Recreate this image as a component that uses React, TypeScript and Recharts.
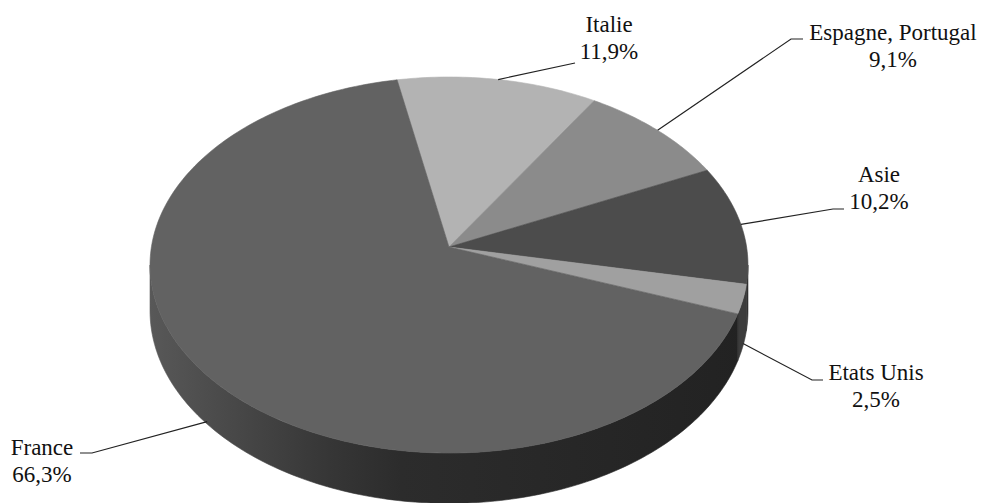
import { PieChart, Pie, Cell } from "recharts";

// parts de marché par zone (%)
const regions = ["Italie", "Espagne, Portugal", "Asie", "Etats Unis", "France"];
const shares = [11.9, 9.1, 10.2, 2.5, 66.3];
const shareLabels = ["11,9%", "9,1%", "10,2%", "2,5%", "66,3%"];

const topColors = ["#b3b3b3", "#8b8b8b", "#4c4c4c", "#a0a0a0", "#626262"];
const wallColors = ["#7a7a7a", "#5a5a5a", "#2e2e2e", "#3c3c3c", "url(#franceWall)"];

// leader line elbow / text placement, one per region
const labelSpots = [
  { ex: 575, ey: 63, tx: 609, ty: 32 },
  { ex: 791, ey: 39, tx: 893, ty: 40, hx: 803 },
  { ex: 833, ey: 209, tx: 879, ty: 182, hx: 844 },
  { ex: 812, ey: 380, tx: 876, ty: 380, hx: 823 },
  { ex: 92, ey: 453, tx: 42, ty: 455, hx: 80 },
];

const data = regions.map((name, i) => ({ name, value: shares[i] }));

const W = 983;
const H = 503;
const CX = 449;
const CY = 247;
const RX = 297.6;
const RATIO = 186.3 / 297.6;
const K = 0.0958; // perspective
const DEPTH = 45.5;
const SERIF = "Liberation Serif, DejaVu Serif";

const pt = (cx: number, cy: number, rx: number, deg: number) => {
  const r = (deg * Math.PI) / 180;
  const q = 1 + K * Math.sin(r);
  return [cx + (rx * Math.cos(r)) / q, cy - (rx * RATIO * Math.sin(r)) / q];
};
const depthAt = (deg: number) => DEPTH / (1 + K * Math.sin((deg * Math.PI) / 180));

// sample the rim from angle a to angle b
const rim = (cx: number, cy: number, rx: number, a: number, b: number, drop = false) => {
  const n = Math.max(2, Math.ceil(Math.abs(b - a)));
  const out: string[] = [];
  for (let i = 0; i <= n; i++) {
    const t = a + ((b - a) * i) / n;
    const [x, y] = pt(cx, cy, rx, t);
    out.push(`${x.toFixed(2)},${(drop ? y + depthAt(t) : y).toFixed(2)}`);
  }
  return out;
};

function TopFace(props: any) {
  const { cx, cy, outerRadius, startAngle, endAngle, fill } = props;
  const hi = Math.max(startAngle, endAngle);
  const lo = Math.min(startAngle, endAngle);
  const pts = [`${cx},${cy}`, ...rim(cx, cy, outerRadius, hi, lo)];
  return <polygon points={pts.join(" ")} fill={fill} stroke={fill} strokeWidth={0.6} />;
}

function SideWall(props: any) {
  const { cx, cy, outerRadius, startAngle, endAngle, fill } = props;
  const hi = Math.max(startAngle, endAngle);
  const lo = Math.min(startAngle, endAngle);
  const tip = (Math.asin(K) * 180) / Math.PI;
  const parts: number[][] = [];
  for (const k of [-1, 0, 1]) {
    const a = Math.max(lo, -180 + tip + 360 * k);
    const b = Math.min(hi, -tip + 360 * k);
    if (b > a) parts.push([a, b]);
  }
  return (
    <g>
      {parts.map(([a, b], i) => {
        const pts = [...rim(cx, cy, outerRadius, b, a), ...rim(cx, cy, outerRadius, a, b, true)];
        return <polygon key={i} points={pts.join(" ")} fill={fill} stroke={fill} strokeWidth={0.6} />;
      })}
    </g>
  );
}

function renderLabel(props: any) {
  const { cx, cy, outerRadius, midAngle, index } = props;
  let [sx, sy] = pt(cx, cy, outerRadius, midAngle);
  if (Math.sin((midAngle * Math.PI) / 180) < -0.15) sy += depthAt(midAngle) * 0.95;
  const s = labelSpots[index];
  const pts = [[sx, sy], [s.ex, s.ey]];
  if (s.hx !== undefined) pts.push([s.hx, s.ey]);
  return (
    <g>
      <polyline
        points={pts.map((p) => p.join(",")).join(" ")}
        fill="none"
        stroke="#222"
        strokeWidth={1.2}
      />
      <text x={s.tx} y={s.ty} textAnchor="middle" fontFamily={SERIF} fontSize={23} fill="#111">
        <tspan x={s.tx} y={s.ty}>{regions[index]}</tspan>
        <tspan x={s.tx} y={s.ty + 26.5}>{shareLabels[index]}</tspan>
      </text>
    </g>
  );
}

export default function App() {
  return (
    <div style={{ position: "absolute", left: 0, top: 0, width: W, height: H, background: "#fff" }}>
      <PieChart width={W} height={H} margin={{ top: 0, right: 0, bottom: 0, left: 0 }}>
        <defs>
          <linearGradient id="franceWall" x1={150} y1={0} x2={748} y2={0} gradientUnits="userSpaceOnUse">
            <stop offset="0" stopColor="#585858" />
            <stop offset="0.3" stopColor="#363636" />
            <stop offset="0.42" stopColor="#2c2c2c" />
            <stop offset="1" stopColor="#222222" />
          </linearGradient>
        </defs>
        <Pie
          data={data}
          dataKey="value"
          nameKey="name"
          cx={CX}
          cy={CY}
          outerRadius={RX}
          startAngle={101}
          endAngle={-259}
          stroke="none"
          shape={SideWall}
          label={false}
          labelLine={false}
          isAnimationActive={false}
        >
          {data.map((d, i) => (
            <Cell key={d.name} fill={wallColors[i]} />
          ))}
        </Pie>
        <Pie
          data={data}
          dataKey="value"
          nameKey="name"
          cx={CX}
          cy={CY}
          outerRadius={RX}
          startAngle={101}
          endAngle={-259}
          stroke="none"
          shape={TopFace}
          label={renderLabel}
          labelLine={false}
          isAnimationActive={false}
        >
          {data.map((d, i) => (
            <Cell key={d.name} fill={topColors[i]} />
          ))}
        </Pie>
      </PieChart>
    </div>
  );
}
